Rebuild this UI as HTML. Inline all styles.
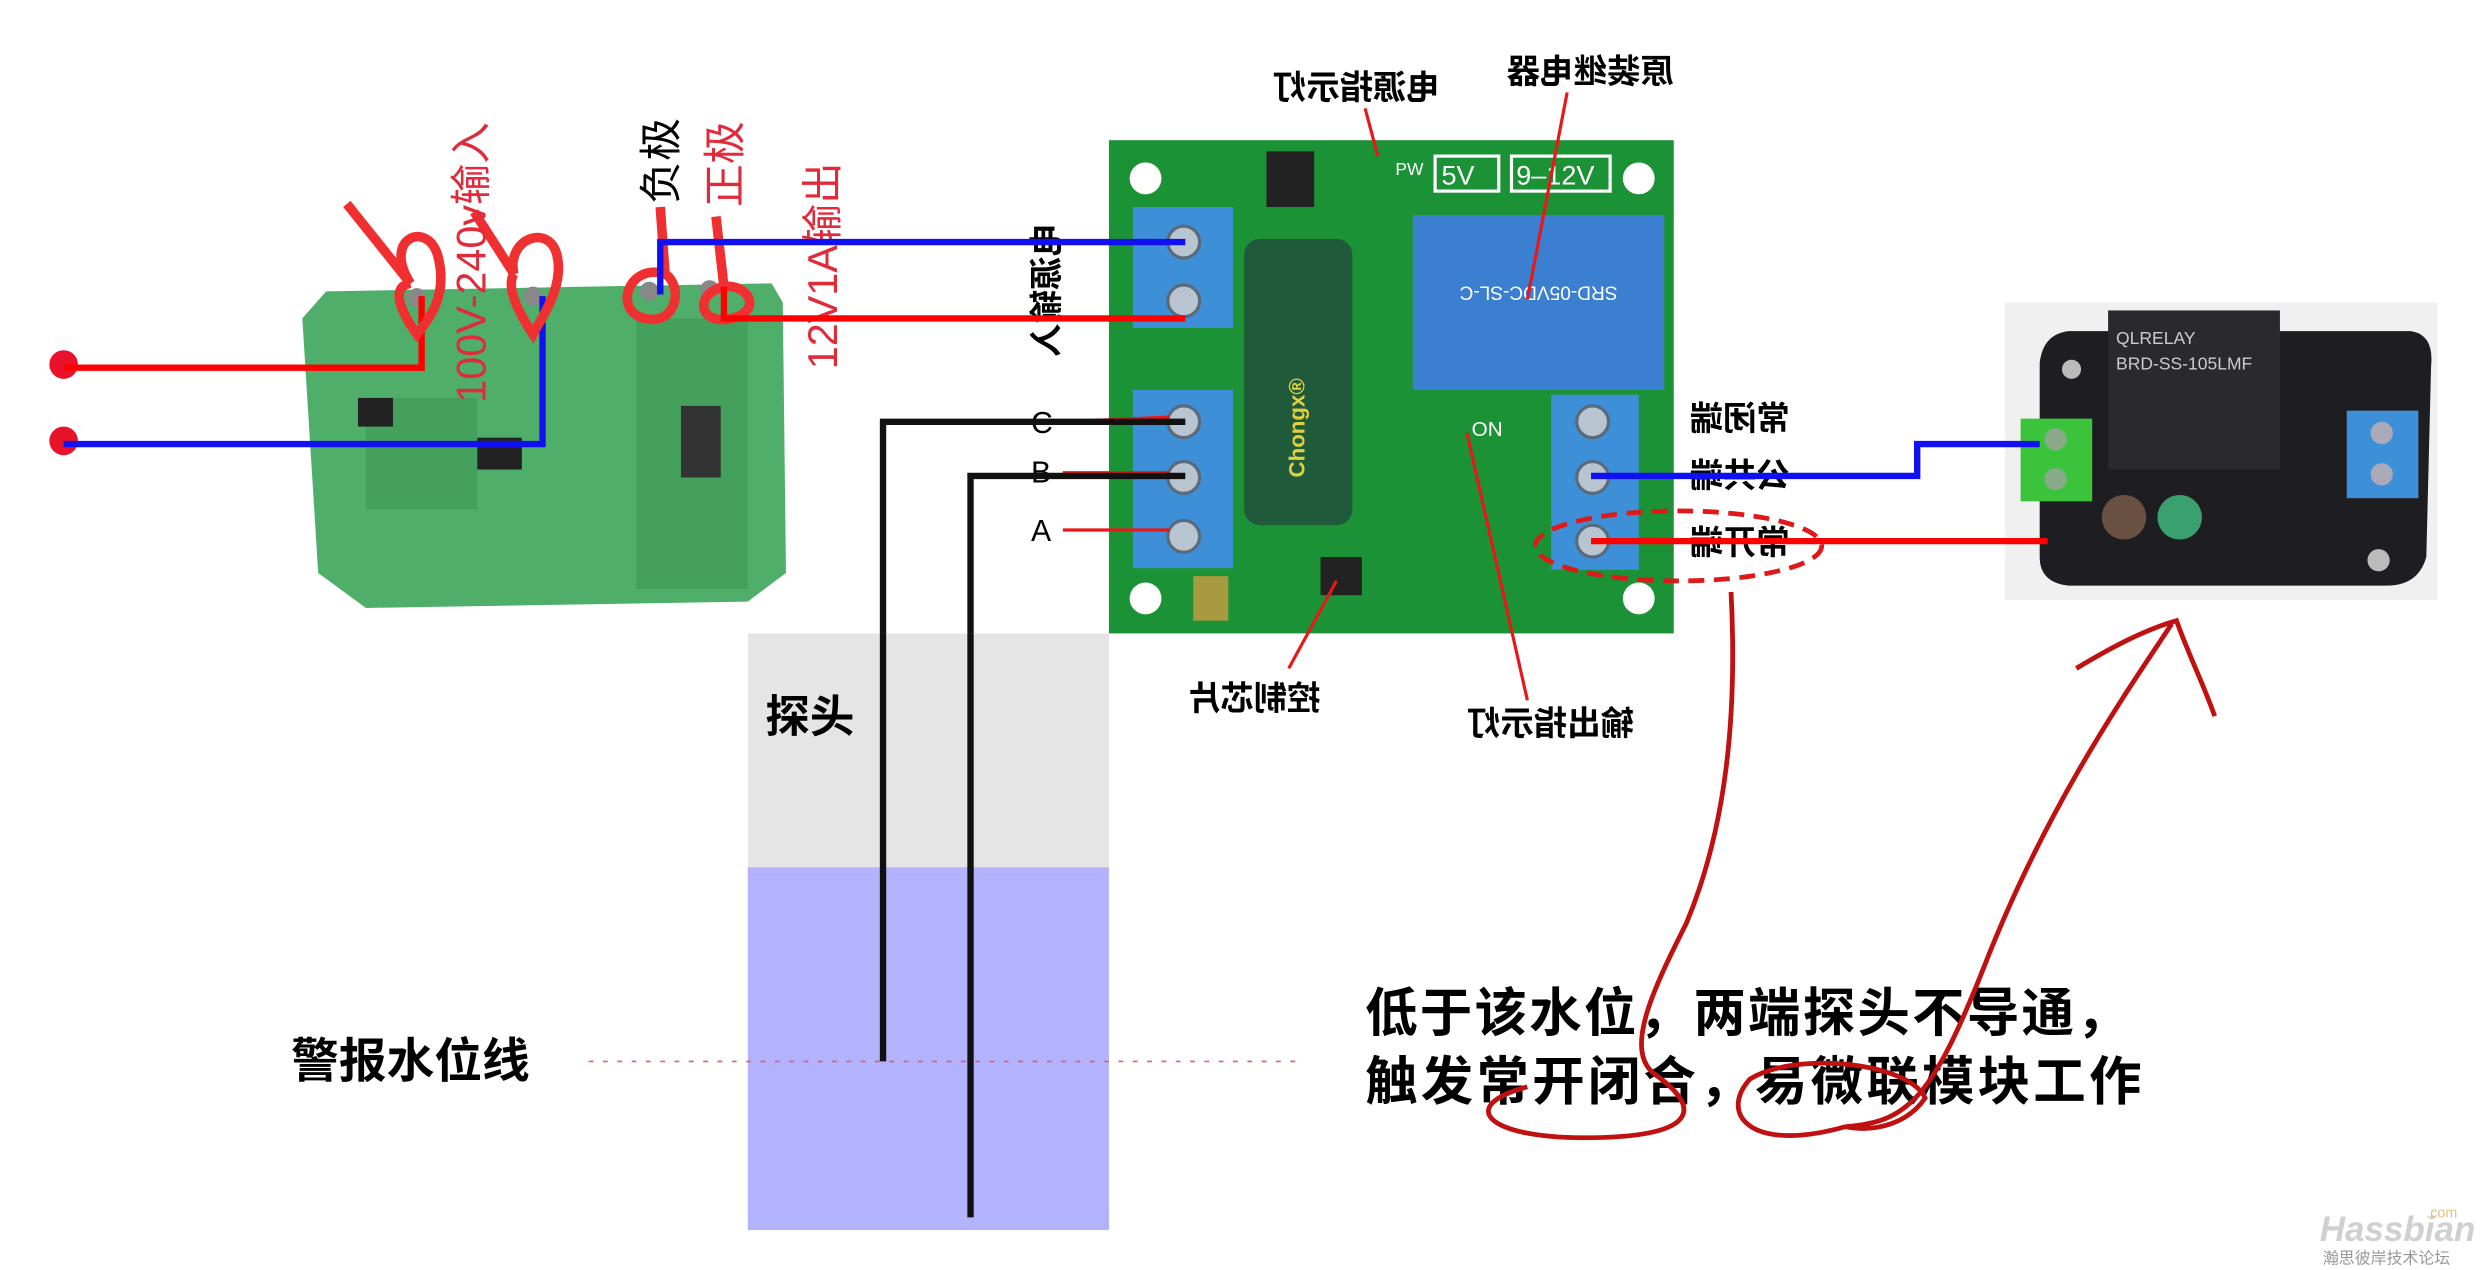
<!DOCTYPE html>
<html><head><meta charset="utf-8"><style>
html,body{margin:0;padding:0;background:#fff;}
svg{display:block;}
text{font-family:"Liberation Sans","Noto Sans CJK SC",sans-serif;}
</style></head><body>
<svg width="2482" height="1270" viewBox="0 0 1560 798" xmlns="http://www.w3.org/2000/svg">
<rect width="1560" height="798" fill="#fff"/>
<!-- left PCB -->
<path d="M205 183 L485 178 L492 190 L494 360 L470 378 L230 382 L200 360 L190 200 Z" fill="#4fae6a"/>
<path d="M230 250 L300 250 L300 320 L230 320Z M400 200 L470 200 L470 370 L400 370Z" fill="#3e9a58" opacity=".7"/>
<rect x="225" y="250" width="22" height="18" fill="#222"/>
<rect x="300" y="275" width="28" height="20" fill="#222"/>
<rect x="428" y="255" width="25" height="45" fill="#333"/>
<circle cx="262" cy="187" r="6" fill="#888"/><circle cx="335" cy="186" r="6" fill="#888"/>
<circle cx="408" cy="183" r="6" fill="#888"/><circle cx="446" cy="182" r="6" fill="#888"/>
<!-- input wires -->
<circle cx="40" cy="229" r="9" fill="#e8132a"/><circle cx="40" cy="277" r="9" fill="#e8132a"/>
<polyline points="40,231 265,231 265,186" fill="none" stroke="#f00" stroke-width="4"/>
<polyline points="40,279 341,279 341,186" fill="none" stroke="#1010f0" stroke-width="4"/>
<!-- red callouts -->
<g fill="none" stroke="#f03030" stroke-width="6">
<path d="M218 128 L258 178 C240 150 268 138 275 160 C282 185 270 200 262 210 C252 196 245 180 258 178"/>
<path d="M298 133 L323 172 C318 150 345 140 350 160 C355 180 340 200 335 210 C325 195 318 180 323 172"/>
<path d="M415 130 L418 172 C395 165 385 195 405 200 C425 205 430 180 418 172"/>
<path d="M450 136 L455 180 C470 178 480 195 460 200 C440 205 435 185 455 180"/>
</g>
<text transform="translate(305,253) rotate(-90)" font-size="26" fill="#e02b3a">100V-240v输入</text>
<text transform="translate(425,128) rotate(-90)" font-size="27" fill="#000">负极</text>
<text transform="translate(465,130) rotate(-90)" font-size="27" fill="#e02b3a">正极</text>
<text transform="translate(526,232) rotate(-90)" font-size="26" fill="#e02b3a">12V1A输出</text>
<!-- middle PCB -->
<rect x="697" y="88" width="355" height="310" fill="#1c9236"/>
<circle cx="720" cy="112" r="10" fill="#fff"/><circle cx="1030" cy="112" r="10" fill="#fff"/>
<circle cx="720" cy="376" r="10" fill="#fff"/><circle cx="1030" cy="376" r="10" fill="#fff"/>
<rect x="750" y="362" width="22" height="28" fill="#a89a40"/>
<rect x="712" y="130" width="63" height="76" fill="#3d8fd8"/>
<rect x="712" y="245" width="63" height="112" fill="#3d8fd8"/>
<rect x="975" y="248" width="55" height="110" fill="#3d8fd8"/>
<g fill="#b8c4d0" stroke="#5a6a7a" stroke-width="2">
<circle cx="744" cy="152" r="10"/><circle cx="744" cy="189" r="10"/>
<circle cx="744" cy="265" r="10"/><circle cx="744" cy="300" r="10"/><circle cx="744" cy="337" r="10"/>
<circle cx="1001" cy="265" r="10"/><circle cx="1001" cy="300" r="10"/><circle cx="1001" cy="340" r="10"/>
</g>
<rect x="782" y="150" width="68" height="180" rx="10" fill="#1f5a3a"/>
<text transform="translate(820,300) rotate(-90)" font-size="14" font-weight="bold" fill="#e0d040">Chongx®</text>
<rect x="888" y="135" width="158" height="110" fill="#3a7fd0"/>
<text x="967" y="150" font-size="12" fill="#fff" text-anchor="middle" transform="rotate(180 967 165)">SRD-05VDC-SL-C</text>
<rect x="796" y="95" width="30" height="35" fill="#222"/>
<rect x="902" y="98" width="40" height="22" fill="none" stroke="#fff" stroke-width="2"/><text x="906" y="116" font-size="17" fill="#fff">5V</text>
<rect x="950" y="98" width="62" height="22" fill="none" stroke="#fff" stroke-width="2"/><text x="953" y="116" font-size="17" fill="#fff">9–12V</text>
<text x="877" y="110" font-size="11" fill="#fff">PW</text>
<text x="925" y="274" font-size="13" fill="#fff">ON</text>
<rect x="830" y="350" width="26" height="24" fill="#222"/>
<g fill="#000" font-size="21" font-weight="bold">
<text transform="translate(905,62) scale(-1,1)">电源指示灯</text>
<text transform="translate(1052,52) scale(-1,1)">原装继电器</text>
<text transform="translate(830,446) scale(-1,1)">控制芯片</text>
<text transform="translate(1027,462) scale(-1,1)">输出指示灯</text>
<text transform="translate(1125,270) scale(-1,1)">常闭端</text>
<text transform="translate(1125,306) scale(-1,1)">公共端</text>
<text transform="translate(1125,348) scale(-1,1)">常开端</text>
<text transform="translate(665,140) rotate(90) scale(1,-1)">电源输入</text>
<text x="648" y="272" font-weight="normal" font-size="19">C</text>
<text x="648" y="303" font-weight="normal" font-size="19">B</text>
<text x="648" y="340" font-weight="normal" font-size="19">A</text>
</g>
<g stroke="#e81818" stroke-width="2" fill="#e81818">
<line x1="858" y1="68" x2="866" y2="98"/><line x1="985" y1="58" x2="960" y2="188"/>
<line x1="810" y1="420" x2="840" y2="365"/><line x1="960" y1="440" x2="922" y2="272"/>
<line x1="668" y1="265" x2="735" y2="262"/><line x1="668" y1="297" x2="735" y2="297"/><line x1="668" y1="333" x2="735" y2="333"/>
</g>
<!-- wires middle -->
<polyline points="415,185 415,152 745,152" fill="none" stroke="#1010f0" stroke-width="4"/>
<polyline points="455,180 455,200 745,200" fill="none" stroke="#f00" stroke-width="4"/>
<polyline points="745,265 555,265 555,667" fill="none" stroke="#111" stroke-width="4"/>
<polyline points="745,299 610,299 610,765" fill="none" stroke="#111" stroke-width="4"/>
<!-- probe area -->
<rect x="470" y="398" width="227" height="147" fill="#e5e5e5"/>
<rect x="470" y="545" width="227" height="228" fill="#b3b3fd"/>
<line x1="555" y1="398" x2="555" y2="667" stroke="#111" stroke-width="4"/>
<line x1="610" y1="398" x2="610" y2="765" stroke="#111" stroke-width="4"/>
<text x="481" y="460" font-size="28" font-weight="bold" fill="#000">探头</text>
<text x="183" y="677" font-size="30" font-weight="bold" fill="#000">警报水位线</text>
<line x1="370" y1="667" x2="815" y2="667" stroke="#e06060" stroke-width="1" stroke-dasharray="3,6"/>
<!-- right board -->
<rect x="1260" y="190" width="272" height="187" fill="#f0f0f0"/>
<path d="M1300 208 L1515 208 Q1530 210 1528 230 L1525 350 Q1520 368 1500 368 L1300 368 Q1282 366 1282 350 L1282 228 Q1284 210 1300 208Z" fill="#1e1e22"/>
<rect x="1325" y="195" width="108" height="100" fill="#2a2a2e"/>
<text x="1330" y="216" font-size="11" fill="#ccc" font-family="Liberation Serif">QLRELAY</text>
<text x="1330" y="232" font-size="11" fill="#ccc" font-family="Liberation Serif">BRD-SS-105LMF</text>
<rect x="1270" y="263" width="45" height="52" fill="#3bc43b"/>
<circle cx="1292" cy="276" r="7" fill="#8a8"/><circle cx="1292" cy="301" r="7" fill="#8a8"/>
<rect x="1475" y="258" width="45" height="55" fill="#3d8fd8"/>
<circle cx="1497" cy="272" r="7" fill="#aab"/><circle cx="1497" cy="298" r="7" fill="#aab"/>
<circle cx="1335" cy="325" r="14" fill="#6a5040"/><circle cx="1370" cy="325" r="14" fill="#3aa070"/>
<circle cx="1495" cy="352" r="7" fill="#bbb"/><circle cx="1302" cy="232" r="6" fill="#bbb"/>
<polyline points="1000,299 1205,299 1205,279 1282,279" fill="none" stroke="#1010f0" stroke-width="4"/>
<line x1="1000" y1="340" x2="1287" y2="340" stroke="#f00" stroke-width="4"/>
<ellipse cx="1055" cy="343" rx="90" ry="22" fill="none" stroke="#e01818" stroke-width="3" stroke-dasharray="10,6"/>
<!-- bottom text -->
<text x="858" y="648" font-size="33" font-weight="bold" fill="#000" textLength="480">低于该水位，两端探头不导通，</text>
<text x="858" y="691" font-size="33" font-weight="bold" fill="#000" textLength="488">触发常开闭合，易微联模块工作</text>
<!-- hand drawn -->
<g fill="none" stroke="#c01010" stroke-width="3">
<path d="M1088 372 C1092 450 1085 520 1060 580 C1040 620 1020 660 1040 675 C1075 700 1060 715 995 715 C935 715 915 695 960 683"/>
<path d="M1160 708 C1100 725 1080 700 1100 678 C1130 660 1200 668 1210 690 C1200 705 1180 712 1160 708 C1200 705 1215 690 1250 600 C1290 500 1340 430 1365 392"/>
<path d="M1305 420 C1330 405 1350 395 1368 390 C1375 410 1385 430 1392 450"/>
</g>
<!-- watermark -->
<text x="1458" y="780" font-size="22" font-style="italic" font-weight="bold" fill="#d0d0d0">Hassbian</text>
<text x="1525" y="765" font-size="9" fill="#e0c080">.com</text>
<text x="1460" y="794" font-size="10" fill="#999">瀚思彼岸技术论坛</text>
</svg>
</body></html>
